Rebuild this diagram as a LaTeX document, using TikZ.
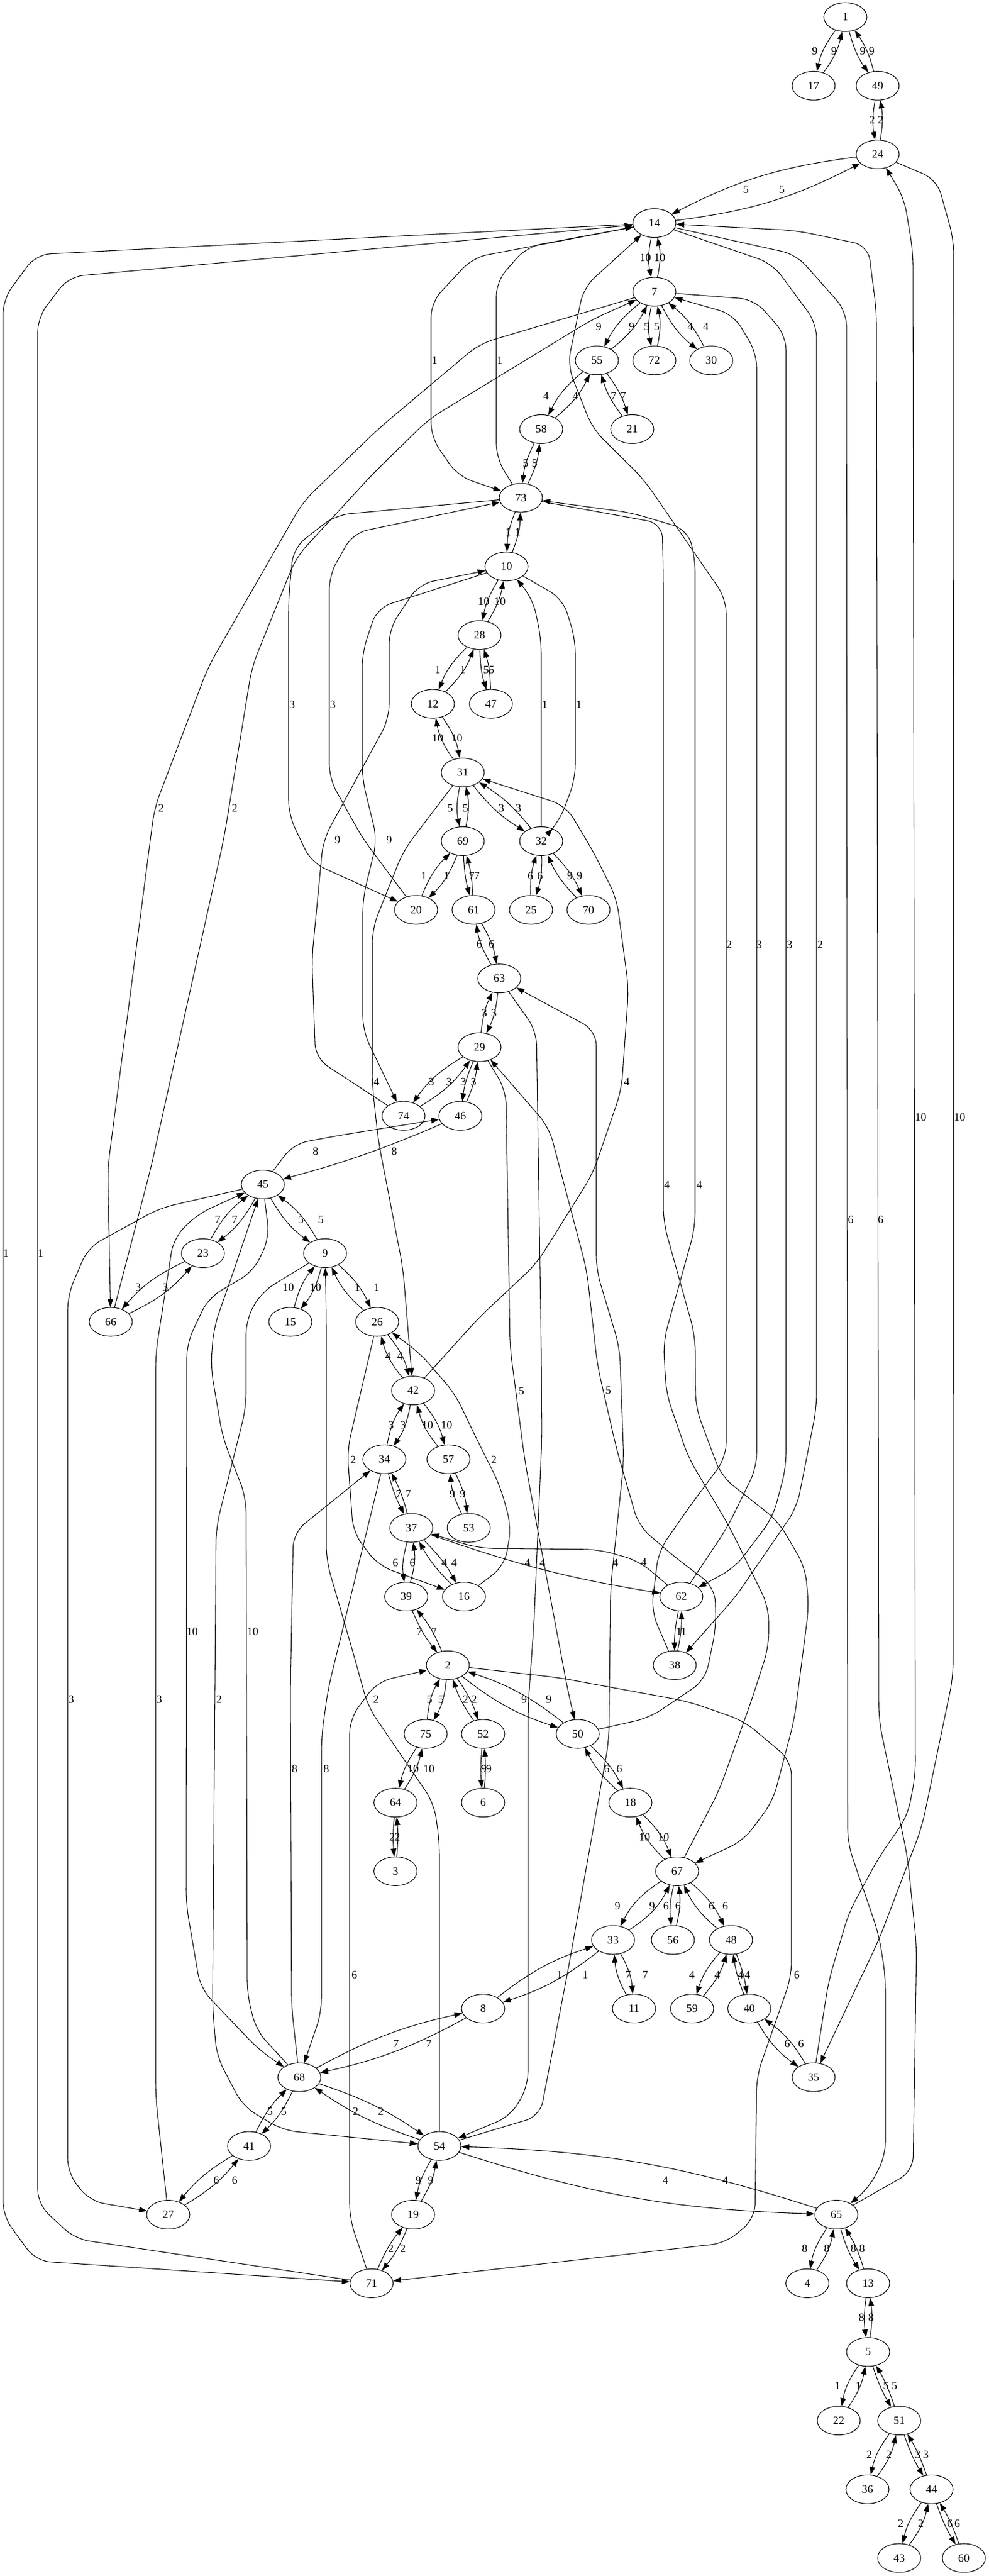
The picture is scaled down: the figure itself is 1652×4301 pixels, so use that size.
\documentclass[tikz,border=0pt]{standalone}
\usepackage{fontspec}
\setmainfont{Liberation Serif}
\usetikzlibrary{shapes.geometric,arrows.meta}
\newcommand\fsz{\fontsize{14pt}{16pt}\selectfont}
\newcommand\pairedge[6]{%
  \draw[e] (n#1) to[#6] (n#2) node[lab] (w#1to#2) at (#4) {#3};
  \draw[e] (n#2) to[#6] (n#1) node[lab] (w#2to#1) at (#5) {#3};}
\tikzset{
  vx/.style={ellipse, draw, line width=0.8pt, minimum width=54pt, minimum height=36pt, inner sep=0pt, font=\fsz},
  lab/.style={font=\fsz, inner sep=0pt},
  e/.style={line width=0.8pt, -{Triangle[length=10pt,width=7pt]}},
  rc/.style={rounded corners=18pt}
}
\begin{document}
\begin{tikzpicture}[x=0.75pt,y=-0.75pt]
\fill[white] (0,0) rectangle (1652,4301);
\useasboundingbox (0,0) rectangle (1652,4301);
% nodes
\node[vx] (n1) at (1412,28.5) {1};
\node[vx] (n17) at (1359,143.2) {17};
\node[vx] (n49) at (1466,143.2) {49};
\node[vx] (n24) at (1466,257.8) {24};
\node[vx] (n14) at (1093,372.5) {14};
\node[vx] (n7) at (1093,487.1) {7};
\node[vx] (n55) at (997,601.8) {55};
\node[vx] (n72) at (1093,601.8) {72};
\node[vx] (n30) at (1188,601.8) {30};
\node[vx] (n58) at (904,716.5) {58};
\node[vx] (n21) at (1056,716.5) {21};
\node[vx] (n73) at (870,831.1) {73};
\node[vx] (n10) at (846,945.8) {10};
\node[vx] (n28) at (801,1060.4) {28};
\node[vx] (n12) at (723,1175.1) {12};
\node[vx] (n47) at (820,1175.1) {47};
\node[vx] (n31) at (773,1289.8) {31};
\node[vx] (n69) at (773,1404.4) {69};
\node[vx] (n32) at (904,1404.4) {32};
\node[vx] (n20) at (695,1519.1) {20};
\node[vx] (n61) at (791,1519.1) {61};
\node[vx] (n25) at (887,1519.1) {25};
\node[vx] (n70) at (983,1519.1) {70};
\node[vx] (n63) at (834,1633.7) {63};
\node[vx] (n29) at (801,1748.4) {29};
\node[vx] (n74) at (674,1863.1) {74};
\node[vx] (n46) at (769,1863.1) {46};
\node[vx] (n45) at (439,1977.7) {45};
\node[vx] (n23) at (339,2092.4) {23};
\node[vx] (n9) at (543,2092.4) {9};
\node[vx] (n66) at (185,2207) {66};
\node[vx] (n15) at (485,2207) {15};
\node[vx] (n26) at (630,2207) {26};
\node[vx] (n42) at (690,2321.7) {42};
\node[vx] (n34) at (642,2436.4) {34};
\node[vx] (n57) at (749,2436.4) {57};
\node[vx] (n37) at (687,2551) {37};
\node[vx] (n53) at (783,2551) {53};
\node[vx] (n39) at (678.5,2665.7) {39};
\node[vx] (n16) at (775,2665.7) {16};
\node[vx] (n62) at (1138,2665.7) {62};
\node[vx] (n2) at (748,2780.3) {2};
\node[vx] (n38) at (1127,2780.3) {38};
\node[vx] (n75) at (711,2895) {75};
\node[vx] (n52) at (807,2895) {52};
\node[vx] (n50) at (965,2895) {50};
\node[vx] (n64) at (660.6,3009.7) {64};
\node[vx] (n6) at (807,3009.7) {6};
\node[vx] (n18) at (1053,3009.7) {18};
\node[vx] (n3) at (660.6,3124.3) {3};
\node[vx] (n67) at (1131,3124.3) {67};
\node[vx] (n33) at (1024,3239) {33};
\node[vx] (n56) at (1124,3239) {56};
\node[vx] (n48) at (1221,3239) {48};
\node[vx] (n8) at (807,3353.6) {8};
\node[vx] (n11) at (1059,3353.6) {11};
\node[vx] (n59) at (1156,3353.6) {59};
\node[vx] (n40) at (1251.6,3353.6) {40};
\node[vx] (n68) at (500,3468.3) {68};
\node[vx] (n35) at (1359,3468.3) {35};
\node[vx] (n41) at (416,3583) {41};
\node[vx] (n54) at (734,3583) {54};
\node[vx] (n27) at (281,3697.6) {27};
\node[vx] (n19) at (690,3697.6) {19};
\node[vx] (n65) at (1397,3697.6) {65};
\node[vx] (n71) at (620.6,3812.3) {71};
\node[vx] (n4) at (1348.6,3812.3) {4};
\node[vx] (n13) at (1450,3812.3) {13};
\node[vx] (n5) at (1450,3926.9) {5};
\node[vx] (n22) at (1401,4041.6) {22};
\node[vx] (n51) at (1502,4041.6) {51};
\node[vx] (n36) at (1449,4156.3) {36};
\node[vx] (n44) at (1556,4156.3) {44};
\node[vx] (n43) at (1502,4270.9) {43};
\node[vx] (n60) at (1610,4270.9) {60};
% short pairs
\pairedge{1}{17}{9}{1361,85}{1393,85}{bend right=12}
\pairedge{1}{49}{9}{1441,85}{1456,85}{bend right=10}
\pairedge{49}{24}{2}{1457,200.7}{1471,200.7}{bend right=10}
\pairedge{24}{14}{5}{1246,316}{1306,316}{bend right=10}
\pairedge{14}{7}{10}{1078,430}{1102,430}{bend right=12}
\pairedge{7}{55}{9}{1000,545.5}{1055,545.5}{bend right=12}
\pairedge{7}{72}{5}{1080,545.5}{1097,545.5}{bend right=12}
\pairedge{7}{30}{4}{1153,545.5}{1179,545.5}{bend right=12}
\pairedge{55}{58}{4}{912,661}{961,661}{bend right=12}
\pairedge{55}{21}{7}{1041,661}{1025,661}{bend left=10}
\pairedge{58}{73}{5}{878,773.5}{893,773.5}{bend right=10}
\pairedge{73}{10}{1}{849,888}{865,888}{bend right=10}
\pairedge{10}{28}{10}{808,1004}{835,1004}{bend right=10}
\pairedge{28}{12}{1}{731,1118.8}{773,1118.8}{bend right=12}
\pairedge{28}{47}{5}{812,1118.8}{821,1118.8}{bend right=8}
\pairedge{12}{31}{10}{763,1232.7}{731,1232.7}{bend left=12}
\pairedge{31}{69}{5}{752,1349}{777.5,1349}{bend right=12}
\pairedge{31}{32}{3}{837.6,1349}{866,1349}{bend right=10}
\pairedge{69}{20}{1}{746,1462}{708,1462}{bend left=12}
\pairedge{69}{61}{7}{788,1462}{796.5,1462}{bend right=6}
\pairedge{32}{25}{6}{902,1462}{886,1462}{bend left=10}
\pairedge{32}{70}{9}{968,1462}{952,1462}{bend left=10}
\pairedge{61}{63}{6}{821,1576.8}{800.7,1576.8}{bend left=10}
\pairedge{63}{29}{3}{825,1691.6}{809,1691.6}{bend left=10}
\pairedge{29}{74}{3}{720.6,1806}{750,1806}{bend right=12}
\pairedge{29}{46}{3}{774,1806}{791,1806}{bend right=8}
\pairedge{45}{23}{7}{392,2036}{363.5,2036}{bend left=12}
\pairedge{45}{9}{5}{502.6,2036}{536,2036}{bend right=12}
\pairedge{23}{66}{3}{230.7,2149.6}{276,2149.6}{bend right=12}
\pairedge{9}{15}{10}{527,2149.6}{481.5,2149.6}{bend left=12}
\pairedge{9}{26}{1}{629,2149.6}{597,2149.6}{bend left=12}
\pairedge{26}{42}{4}{668,2264}{648,2264}{bend left=12}
\pairedge{42}{34}{3}{673,2379.6}{653,2379.6}{bend left=12}
\pairedge{42}{57}{10}{746,2379.6}{714,2379.6}{bend left=12}
\pairedge{34}{37}{7}{666,2494}{682,2494}{bend right=6}
\pairedge{57}{53}{9}{773,2494}{755.5,2494}{bend left=10}
\pairedge{37}{39}{6}{660.6,2609}{689,2609}{bend right=12}
\pairedge{37}{16}{4}{758.6,2609}{742,2609}{bend left=8}
\pairedge{39}{2}{7}{700.6,2724.5}{725,2724.5}{bend right=8}
\pairedge{62}{38}{1}{1134,2724.5}{1142,2724.5}{bend right=6}
\pairedge{2}{75}{5}{736.5,2837}{717.5,2837}{bend left=12}
\pairedge{2}{52}{2}{792,2837}{777.5,2837}{bend left=8}
\pairedge{2}{50}{9}{875.5,2837}{916.6,2837}{bend right=10}
\pairedge{75}{64}{10}{690,2953}{716.4,2953}{bend right=10}
\pairedge{52}{6}{9}{808,2953}{816.5,2953}{bend right=5}
\pairedge{64}{3}{2}{655,3067.7}{663.8,3067.7}{bend right=5}
\pairedge{50}{18}{6}{1034.6,2953}{1013.5,2953}{bend left=10}
\pairedge{18}{67}{10}{1108.4,3067.7}{1076.8,3067.7}{bend left=12}
\pairedge{67}{33}{9}{1031.5,3182.5}{1089.4,3182.5}{bend right=15}
\pairedge{67}{56}{6}{1112.6,3182.5}{1132.6,3182.5}{bend right=10}
\pairedge{67}{48}{6}{1211.6,3182.5}{1188.5,3182.5}{bend left=12}
\pairedge{33}{8}{1}{977.7,3297}{934.5,3297}{bend left=10}
\pairedge{33}{11}{7}{1077.8,3297}{1049.4,3297}{bend left=12}
\pairedge{48}{59}{4}{1155.8,3297}{1198,3297}{bend right=12}
\pairedge{48}{40}{4}{1248.5,3297}{1237,3297}{bend left=6}
\pairedge{40}{35}{6}{1315,3412}{1338,3412}{bend right=12}
\pairedge{8}{68}{7}{716.4,3412}{661.6,3412}{bend left=8}
\pairedge{68}{41}{5}{474,3525.5}{451,3525.5}{bend left=10}
\pairedge{68}{54}{2}{636,3525.5}{594,3525.5}{bend left=8}
\pairedge{41}{27}{6}{361.4,3640.5}{392,3640.5}{bend right=10}
\pairedge{54}{19}{9}{698.5,3640.5}{719.6,3640.5}{bend right=10}
\pairedge{19}{71}{2}{673,3754}{653,3754}{bend left=8}
\pairedge{54}{65}{4}{1111.5,3640.5}{1211.6,3640.5}{bend right=8}
\pairedge{65}{4}{8}{1344,3754}{1381,3754}{bend right=12}
\pairedge{65}{13}{8}{1425.5,3754}{1440,3754}{bend right=8}
\pairedge{13}{5}{8}{1439,3869}{1455,3869}{bend right=8}
\pairedge{5}{22}{1}{1399,3983.7}{1434,3983.7}{bend right=12}
\pairedge{5}{51}{5}{1480,3983.7}{1494,3983.7}{bend right=6}
\pairedge{51}{36}{2}{1452,4098.6}{1484.5,4098.6}{bend right=12}
\pairedge{51}{44}{3}{1533,4098.6}{1546.6,4098.6}{bend right=6}
\pairedge{44}{43}{2}{1504.5,4213.6}{1538,4213.6}{bend right=12}
\pairedge{44}{60}{6}{1586.6,4213.6}{1599,4213.6}{bend right=6}
% custom pairs
\draw[e,rc] (n45) -- (490,1910) -- (565,1896) -- (n46) node[lab] (w45to46) at (527,1922) {8};
\draw[e] (n46) to[bend left=4] (n45) node[lab] (w46to45) at (658.5,1922) {8};
\draw[e] (n37) to[bend right=5] (n62) node[lab] (w37to62) at (881,2609) {4};
\draw[e,rc] (n62) -- (1067,2606) -- (1000,2587) -- (800,2585) -- (n37) node[lab] (w62to37) at (1075.6,2608) {4};
% long edges
\draw[e,rc] (n14) -- (60,425) -- (5,500) -- (5,3700) -- (60,3775) -- (n71) node[lab] (w14to71) at (10,2092.5) {1};
\draw[e,rc] (n71) -- (125,3738) -- (63,3680) -- (63,530) -- (115,462) -- (n14) node[lab] (w71to14) at (68,2092.5) {1};
\draw[e,rc] (n14) -- (790,430) -- (720,505) -- (720,730) -- (765,795) -- (n73) node[lab] (w14to73) at (726,601.5) {1};
\draw[e,rc] (n73) -- (829,765) -- (829,470) -- (880,412) -- (n14) node[lab] (w73to14) at (835,601.5) {1};
\draw[e,rc] (n14) -- (1330,425) -- (1414,520) -- (1416,3078) -- (1468,3230) -- (1479,3300) -- (1479,3600) -- (1450,3655) -- (n65) node[lab] (w14to65) at (1421,2036) {6};
\draw[e,rc] (n65) -- (1525,3625) -- (1531,3250) -- (1516,3101) -- (1468,2872) -- (1464,520) -- (1450,410) -- (1330,385) -- (n14) node[lab] (w65to14) at (1471,2036) {6};
\draw[e,rc] (n14) -- (1290,440) -- (1364,540) -- (1364,2350) -- (1331,2517) -- (1228,2667) -- (n38) node[lab] (w14to38) at (1370,1577) {2};
\draw[e,rc] (n38) -- (1088,2690) -- (1100,2590) -- (1150,2518) -- (1213,2433) -- (1213,1000) -- (1075,800) -- (990,716) -- (948,610) -- (975,480) -- (n14) node[lab] (w38to14) at (1218,1577) {2};
\draw[e,rc] (n7) -- (1260,500) -- (1313,560) -- (1313,2450) -- (1291,2533) -- (1228,2617) -- (n62) node[lab] (w7to62) at (1319,1577) {3};
\draw[e,rc] (n62) -- (1215,2550) -- (1264,2450) -- (1264,590) -- (1225,525) -- (n7) node[lab] (w62to7) at (1268,1577) {3};
\draw[e,rc] (n7) -- (801,574) -- (632,716) -- (506,838) -- (348,1113) -- (258,1349) -- (180,1950) -- (n66) node[lab] (w7to66) at (269,1349) {2};
\draw[e,rc] (n66) -- (252,1950) -- (374,1400) -- (421,1113) -- (495,930) -- (622,792) -- (716,700) -- (990,533) -- (n7) node[lab] (w66to7) at (392,1349) {2};
\draw[e,rc] (n73) -- (560,860) -- (490,915) -- (482,1000) -- (482,1360) -- (520,1440) -- (n20) node[lab] (w73to20) at (488,1176) {3};
\draw[e,rc] (n20) -- (606,1400) -- (550,1300) -- (550,960) -- (590,890) -- (n73) node[lab] (w20to73) at (556,1176) {3};
\draw[e,rc] (n73) -- (1106,874) -- (1108,960) -- (1108,2040) -- (1161,2230) -- (1162,2350) -- (1205,2465) -- (1300,2540) -- (1345,2617) -- (1351,2683) -- (1327,2870) -- (1291,3007) -- (1242,3073) -- (n67) node[lab] (w73to67) at (1114,1978.6) {4};
\draw[e,rc] (n67) -- (1201,2990) -- (1255,2840) -- (1284,2750) -- (1284,2683) -- (1219,2550) -- (1150,2434) -- (1113,2327) -- (1108,2240) -- (1161,2050) -- (1161,930) -- (1148,884) -- (1054,856) -- (n73) node[lab] (w67to73) at (1168,1978.6) {4};
\draw[e,rc] (n10) -- (940,1000) -- (961,1067) -- (961,1300) -- (935,1370) -- (n32) node[lab] (w10to32) at (967,1176) {1};
\draw[e,rc] (n32) -- (904,1300) -- (904,1067) -- (890,1000) -- (n10) node[lab] (w32to10) at (910,1176) {1};
\draw[e,rc] (n10) -- (630,1015) -- (605,1090) -- (605,1300) -- (630,1402) -- (606,1500) -- (606,1721) -- (n74) node[lab] (w10to74) at (650,1402.6) {9};
\draw[e,rc] (n74) -- (527,1767) -- (521,1600) -- (540,1402) -- (650,1200) -- (650,1050) -- (700,975) -- (n10) node[lab] (w74to10) at (563.7,1402.6) {9};
\draw[e,rc] (n31) -- (674,1420) -- (622,1550) -- (622,1813) -- (632,1905) -- (673,2117) -- (n42) node[lab] (w31to42) at (629,1806) {4};
\draw[e,rc] (n42) -- (800,2200) -- (896,2110) -- (990,1960) -- (1038,1820) -- (1050,1650) -- (1030,1500) -- (990,1420) -- (945,1345) -- (n31) node[lab] (w42to31) at (1047,1806) {4};
\draw[e,rc] (n29) -- (845,1820) -- (852,2250) -- (877,2441) -- (920,2671) -- (948,2820) -- (n50) node[lab] (w29to50) at (871,2322) {5};
\draw[e,rc] (n50) -- (1085,2868) -- (1178,2805) -- (1196,2717) -- (1194,2650) -- (1130,2602) -- (1067,2548) -- (1030,2420) -- (998,2280) -- (980,2120) -- (917,1882) -- (n29) node[lab] (w50to29) at (1016,2321) {5};
\draw[e,rc] (n63) -- (896,1721) -- (904,2250) -- (905,2403) -- (892,2709) -- (882,2850) -- (882,3483) -- (853,3533) -- (n54) node[lab] (w63to54) at (906,2609) {4};
\draw[e,rc] (n54) -- (902,3533) -- (950,3283) -- (1017,2907) -- (1020,2650) -- (1042,2440) -- (1035,2250) -- (996,2120) -- (996,1721) -- (n63) node[lab] (w54to63) at (1028,2609) {4};
\draw[e,rc] (n45) -- (267,2017) -- (147,2083) -- (113,2163) -- (113,3628) -- (150,3675) -- (n27) node[lab] (w45to27) at (119,2837) {3};
\draw[e,rc] (n27) -- (260,3500) -- (260,2260) -- (290,2067) -- (330,2027) -- (n45) node[lab] (w27to45) at (266,2837) {3};
\draw[e,rc] (n45) -- (450,2067) -- (423,2123) -- (348,2167) -- (312,2243) -- (311,3180) -- (335,3320) -- (433,3423) -- (n68) node[lab] (w45to68) at (321,2724.5) {10};
\draw[e,rc] (n68) -- (428,3390) -- (413,3330) -- (411,2500) -- (372,2400) -- (352,2283) -- (357,2217) -- (392,2117) -- (n45) node[lab] (w68to45) at (422,2724.5) {10};
\draw[e,rc] (n9) -- (437,2157) -- (411,2203) -- (411,2350) -- (361,2550) -- (355,3350) -- (362,3433) -- (406,3517) -- (473,3557) -- (n54) node[lab] (w9to54) at (366,2837) {2};
\draw[e,rc] (n54) -- (734,3075) -- (725,3011) -- (615,2850) -- (590,2760) -- (545,2605) -- (545,2200) -- (n9) node[lab] (w54to9) at (628,2837) {2};
\draw[e,rc] (n71) -- (584,3704) -- (584,2870) -- (630,2808) -- (n2) node[lab] (w71to2) at (592,3297) {6};
\draw[e,rc] (n2) -- (933,2801) -- (1150,2841) -- (1242,2873) -- (1322,2940) -- (1322,3300) -- (1264,3466) -- (1261,3704) -- (1212,3745) -- (n71) node[lab] (w2to71) at (1331,3297) {6};
\draw[e,rc] (n26) -- (580,2421) -- (590,2559) -- (632,2614) -- (n16) node[lab] (w26to16) at (590,2437) {2};
\draw[e,rc] (n16) -- (843,2614) -- (854,2548) -- (835,2480) -- (793,2396) -- (760,2327) -- (700,2258) -- (n26) node[lab] (w16to26) at (825,2437) {2};
\draw[e,rc] (n34) -- (548,2820) -- (537,2900) -- (537,3360) -- (n68) node[lab] (w34to68) at (545,2953) {8};
\draw[e,rc] (n68) -- (487,3350) -- (485,2820) -- (490,2559) -- (n34) node[lab] (w68to34) at (492,2953) {8};
\draw[e,rc] (n24) -- (1565,300) -- (1593,400) -- (1592,2800) -- (1540,3050) -- (1468,3239) -- (n35) node[lab] (w24to35) at (1603,1865) {10};
\draw[e,rc] (n35) -- (1384,3308) -- (1418,3193) -- (1468,3101) -- (1516,3032) -- (1529,2964) -- (1525,420) -- (1510,330) -- (n24) node[lab] (w35to24) at (1538,1865) {10};
\end{tikzpicture}
\end{document}
